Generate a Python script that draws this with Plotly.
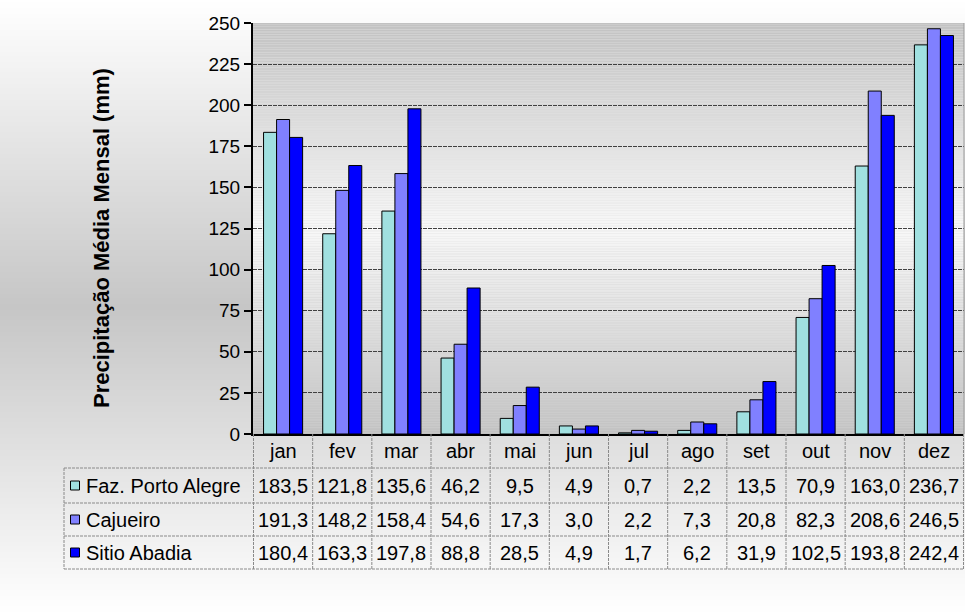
import plotly.graph_objects as go

# Monthly mean precipitation (mm) for three stations
months = ["jan", "fev", "mar", "abr", "mai", "jun", "jul", "ago", "set", "out", "nov", "dez"]
series_names = ["Faz. Porto Alegre", "Cajueiro", "Sitio Abadia"]
porto_alegre = [183.5, 121.8, 135.6, 46.2, 9.5, 4.9, 0.7, 2.2, 13.5, 70.9, 163.0, 236.7]
cajueiro = [191.3, 148.2, 158.4, 54.6, 17.3, 3.0, 2.2, 7.3, 20.8, 82.3, 208.6, 246.5]
sitio_abadia = [180.4, 163.3, 197.8, 88.8, 28.5, 4.9, 1.7, 6.2, 31.9, 102.5, 193.8, 242.4]
y_ticks = [0, 25, 50, 75, 100, 125, 150, 175, 200, 225, 250]

series_values = [porto_alegre, cajueiro, sitio_abadia]
series_colors = ["#A0E0E0", "#8080FF", "#0000FF"]

W, H = 965, 614
FONT = "Liberation Sans, Arial, sans-serif"


def xp(px):
    return px / W


def yp(py):
    return 1 - py / H


def grey(level):
    v = int(round(level))
    return f"rgb({v},{v},{v})"


# plot area in pixels
PL, PR, PT, PB = 253, 964, 23, 434
# data-table rows (pixel rows)
ROW_EDGES = [434, 468, 503, 536, 569]
TABLE_LEFT = 64

fig = go.Figure()
for name, vals, col in zip(series_names, series_values, series_colors):
    fig.add_trace(go.Bar(
        x=months, y=vals, name=name,
        marker=dict(color=col, line=dict(color="black", width=1)),
        hoverinfo="x+y+name",
    ))

shapes = []

# outer background: light at top and bottom, darker in the middle
step = 2
for py in range(0, H, step):
    c = abs((py + 1) - H / 2) / (H / 2)
    level = 198 + (255 - 198) * c
    shapes.append(dict(type="rect", xref="paper", yref="paper", layer="below",
                       x0=0, x1=1, y0=yp(py + step), y1=yp(py),
                       fillcolor=grey(level), line=dict(width=0)))

# plot area background: darker at top and bottom, light in the middle
for v in range(0, 250):
    c = abs((v + 0.5) - 125) / 125
    level = 248 - (248 - 194) * c
    shapes.append(dict(type="rect", xref="x domain", yref="y", layer="below",
                       x0=0, x1=1, y0=v, y1=v + 1,
                       fillcolor=grey(level), line=dict(width=0)))

# right border of plot area
shapes.append(dict(type="line", xref="x domain", yref="y", x0=1, x1=1, y0=0, y1=250,
                   line=dict(color="#9a9a9a", width=1)))

# data table grid
tline = dict(color="#8a8a8a", width=1, dash="3px,1px")
n = len(months)
for k in range(n + 1):
    shapes.append(dict(type="line", xref="x", yref="paper",
                       x0=k - 0.5, x1=k - 0.5, y0=yp(ROW_EDGES[0]), y1=yp(ROW_EDGES[-1]),
                       line=tline))
for py in ROW_EDGES[1:]:
    shapes.append(dict(type="line", xref="paper", yref="paper",
                       x0=xp(TABLE_LEFT), x1=xp(PR), y0=yp(py), y1=yp(py), line=tline))
shapes.append(dict(type="line", xref="paper", yref="paper",
                   x0=xp(TABLE_LEFT), x1=xp(TABLE_LEFT),
                   y0=yp(ROW_EDGES[1]), y1=yp(ROW_EDGES[-1]), line=tline))

annotations = []
txt_font = dict(family=FONT, size=20, color="black")

# month labels row
mid0 = (ROW_EDGES[0] + ROW_EDGES[1]) / 2
for m in months:
    annotations.append(dict(x=m, xref="x", y=yp(mid0), yref="paper", text=m,
                            showarrow=False, font=txt_font, xanchor="center", yanchor="middle"))

# value rows with legend keys
for r, (name, vals, col) in enumerate(zip(series_names, series_values, series_colors)):
    mid = (ROW_EDGES[r + 1] + ROW_EDGES[r + 2]) / 2
    shapes.append(dict(type="rect", xref="paper", yref="paper",
                       x0=xp(70.5), x1=xp(79.5), y0=yp(mid + 4.5), y1=yp(mid - 4.5),
                       fillcolor=col, line=dict(color="black", width=1)))
    annotations.append(dict(x=xp(84), xref="paper", y=yp(mid), yref="paper", text=name,
                            showarrow=False, font=txt_font, xanchor="left", yanchor="middle"))
    for m, v in zip(months, vals):
        annotations.append(dict(x=m, xref="x", y=yp(mid), yref="paper",
                                text=f"{v:.1f}".replace(".", ","),
                                showarrow=False, font=txt_font,
                                xanchor="center", yanchor="middle"))

# y-axis title
annotations.append(dict(x=xp(102), xref="paper", y=yp(238), yref="paper",
                        text="<b>Precipitação Média Mensal (mm)</b>", textangle=-90,
                        showarrow=False, font=dict(family=FONT, size=22, color="black"),
                        xanchor="center", yanchor="middle"))

fig.update_layout(
    width=W, height=H,
    margin=dict(l=0, r=0, t=0, b=0),
    paper_bgcolor="white",
    plot_bgcolor="rgba(0,0,0,0)",
    barmode="group", bargap=0.34, bargroupgap=0,
    showlegend=False,
    shapes=shapes,
    annotations=annotations,
    xaxis=dict(domain=[xp(PL), xp(PR)], showticklabels=False, ticks="",
               showgrid=False, zeroline=False, automargin=False,
               showline=True, linecolor="black", linewidth=2),
    yaxis=dict(domain=[yp(PB), yp(PT)], range=[0, 250], tickvals=y_ticks,
               showgrid=True, gridcolor="#404040", gridwidth=1, griddash="4px,1px",
               zeroline=False, showline=True, linecolor="black", linewidth=2,
               automargin=False,
               ticks="outside", ticklen=7, tickwidth=2, tickcolor="black",
               tickfont=dict(family=FONT, size=19, color="black")),
)

fig.write_html("out.html")
